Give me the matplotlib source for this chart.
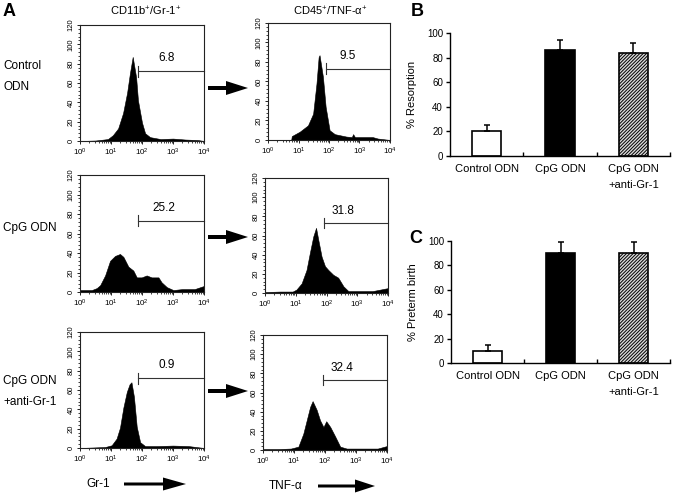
import numpy as np
import matplotlib
matplotlib.use('Agg')
import matplotlib.pyplot as plt
from matplotlib.patches import FancyArrow
from matplotlib.ticker import MultipleLocator, LogLocator, NullFormatter, FixedLocator

plt.rcParams['font.family'] = ['Liberation Sans', 'DejaVu Sans']
plt.rcParams['mathtext.fontset'] = 'custom'
plt.rcParams['mathtext.rm'] = 'Liberation Sans'
plt.rcParams['mathtext.it'] = 'Liberation Sans:italic'
plt.rcParams['mathtext.bf'] = 'Liberation Sans:bold'
plt.rcParams['hatch.linewidth'] = 0.7

# ---------------- data ----------------
# Histograms: x in log10 decades of fluorescence, y = counts
h1_log = [0.0, 0.5, 0.9, 1.06, 1.23, 1.39, 1.52, 1.61, 1.70, 1.81, 1.87, 2.0, 2.1, 2.26, 2.6, 3.0, 3.4, 3.8, 4.0]
h1_cnt = [0, 0.5, 2, 6, 13, 29, 50, 70, 87, 66, 42, 19, 8, 4, 2, 2.5, 1.5, 1, 0]

h2_log = [0.0, 0.76, 0.78, 1.04, 1.31, 1.48, 1.59, 1.66, 1.69, 1.80, 1.89, 2.02, 2.19, 2.57, 2.75, 2.79, 2.85, 3.43, 3.6, 4.0]
h2_cnt = [0, 0, 4, 8.5, 15, 27, 58, 85, 87, 65, 34, 10, 6, 3.5, 3, 6, 3, 3, 1.5, 0]

h3_log = [0.0, 0.2, 0.38, 0.54, 0.65, 0.81, 0.97, 1.13, 1.29, 1.40, 1.56, 1.72, 1.83, 1.99, 2.15, 2.31, 2.53, 2.63, 2.80, 3.01, 3.3, 3.7, 3.98, 4.0]
h3_cnt = [2, 2, 2, 4, 7, 17, 32, 37, 39, 36, 26, 22, 15, 15, 17, 15, 15, 10, 5, 2, 3, 3, 6, 0]

h4_log = [0.0, 0.5, 0.9, 1.02, 1.19, 1.35, 1.46, 1.57, 1.66, 1.73, 1.84, 1.95, 2.06, 2.22, 2.38, 2.55, 2.71, 3.0, 3.5, 3.98, 4.0]
h4_cnt = [1, 1.5, 1.5, 3.5, 10, 24, 42, 59, 68, 56, 38, 28, 24, 19, 16, 7, 2, 2, 2, 5, 0]

h5_log = [0.0, 0.81, 1.02, 1.18, 1.29, 1.40, 1.51, 1.60, 1.66, 1.74, 1.83, 1.94, 2.1, 2.5, 3.0, 3.5, 4.0]
h5_cnt = [0, 1, 2.8, 9.7, 21, 42, 58, 66, 68, 53, 22, 6, 2, 2, 2.5, 2, 0]

h6_log = [0.0, 0.5, 0.9, 1.14, 1.30, 1.41, 1.52, 1.60, 1.73, 1.84, 1.95, 2.04, 2.17, 2.33, 2.49, 2.7, 3.2, 3.7, 3.98, 4.0]
h6_cnt = [1, 1, 1.5, 3.5, 17, 31, 45, 51, 42, 31, 24, 30, 24, 14, 3.5, 1.5, 1.5, 1.5, 4, 0]

gate_pct = ['6.8', '9.5', '25.2', '31.8', '0.9', '32.4']
gate_start_log = [1.87, 1.90, 1.87, 1.92, 1.87, 1.94]
gate_level = [72, 73, 73, 73, 72, 73]

row_labels = [['Control', 'ODN'], ['CpG ODN'], ['CpG ODN', '+anti-Gr-1']]
col_titles = ['CD11b$^{+}$/Gr-1$^{+}$', 'CD45$^{+}$/TNF-α$^{+}$']
x_markers = ['Gr-1', 'TNF-α']

categories = ['Control ODN', 'CpG ODN', 'CpG ODN\n+anti-Gr-1']
resorption = [20, 86, 84]
resorption_err = [5, 8, 7.5]
preterm = [10, 90.5, 90.5]
preterm_err = [4.7, 8.3, 8.3]

# ---------------- figure ----------------
W, H = 675, 493
fig = plt.figure(figsize=(W / 100, H / 100), dpi=100)


def axes_px(x0, y0, x1, y1):
    return fig.add_axes([x0 / W, 1 - y1 / H, (x1 - x0) / W, (y1 - y0) / H])


def fig_text(x, y, s, **kw):
    fig.text(x / W, 1 - y / H, s, **kw)


hist_data = [(h1_log, h1_cnt), (h2_log, h2_cnt), (h3_log, h3_cnt),
             (h4_log, h4_cnt), (h5_log, h5_cnt), (h6_log, h6_cnt)]
hist_boxes = [(80, 25, 204, 141), (268, 23, 390, 140),
              (80, 175, 204, 292), (265, 178, 388, 293),
              (80, 332, 204, 448), (263, 335, 387, 450)]
label_log = [2.8, 2.62, 2.69, 2.55, 2.8, 2.55]

for i, ((lg, cnt), box) in enumerate(zip(hist_data, hist_boxes)):
    ax = axes_px(*box)
    xs = 10 ** np.array(lg)
    ax.fill_between(xs, cnt, 0, color='black', linewidth=0.4)
    ax.set_xscale('log')
    ax.set_xlim(1, 1e4)
    ax.set_ylim(0, 120)
    ax.yaxis.set_major_locator(MultipleLocator(20))
    ax.yaxis.set_minor_locator(MultipleLocator(4))
    ax.xaxis.set_major_locator(LogLocator(base=10, numticks=10))
    ax.xaxis.set_minor_locator(LogLocator(base=10, subs=np.arange(2, 10), numticks=50))
    ax.xaxis.set_minor_formatter(NullFormatter())
    ax.tick_params(which='major', direction='out', length=2.5, width=0.7,
                   labelsize=5.8, pad=1.5, color='#222222')
    ax.tick_params(which='minor', direction='out', length=1.6, width=0.6, color='#222222')
    ax.tick_params(axis='y', labelrotation=90, labelsize=5.5)
    for lbl in ax.get_yticklabels():
        lbl.set_va('center')
    for sp in ax.spines.values():
        sp.set_linewidth(0.8)
        sp.set_color('#222222')
    g0 = 10 ** gate_start_log[i]
    lv = gate_level[i]
    ax.plot([g0, 1e4], [lv, lv], color='#333333', lw=0.8, clip_on=False)
    ax.plot([g0, g0], [lv - 5.5, lv + 5.5], color='#333333', lw=0.8, clip_on=False)
    ax.text(10 ** label_log[i], 86, gate_pct[i], ha='center', va='center', fontsize=8.5)

# arrows between columns and under the axes
def arrow_px(x0, x1, y, head_len=22, head_w=14, shaft=4):
    a = FancyArrow(x0 / 100, (H - y) / 100, (x1 - x0) / 100, 0,
                   width=shaft / 100, head_width=head_w / 100, head_length=head_len / 100,
                   length_includes_head=True, color='black', linewidth=0,
                   transform=fig.dpi_scale_trans)
    fig.add_artist(a)

for yy in [88, 237, 391]:
    arrow_px(208, 248, yy)
arrow_px(124, 186, 484, head_len=23, head_w=13, shaft=3)
arrow_px(318, 375, 486, head_len=20, head_w=13, shaft=3)

# texts for panel A
fig_text(3, 12, 'A', fontsize=13, fontweight='bold', ha='left', va='center')
fig_text(146, 11, col_titles[0], fontsize=8, ha='center', va='center')
fig_text(330, 11, col_titles[1], fontsize=8, ha='center', va='center')
row_y = [[66, 87], [228], [381, 402]]
for labs, ys in zip(row_labels, row_y):
    for s, yy in zip(labs, ys):
        fig_text(3, yy, s, fontsize=8.5, ha='left', va='center')
fig_text(98, 484, x_markers[0], fontsize=8.5, ha='center', va='center')
fig_text(286, 486, x_markers[1], fontsize=8.5, ha='center', va='center')

# ---------------- bar panels ----------------
def bar_panel(box, vals, errs, ylabel, letter, letter_pos):
    ax = axes_px(*box)
    xs = np.arange(len(vals)) + 0.5
    faces = ['white', 'black', '#d9d9d9']
    hatches = [None, None, '//////////']
    for x, v, e, fc, hz in zip(xs, vals, errs, faces, hatches):
        ax.bar(x, v, width=0.4, facecolor=fc, edgecolor='black', linewidth=1.2,
               hatch=hz, zorder=2)
        ax.errorbar(x, v, yerr=[[0], [e]], fmt='none', ecolor='black',
                    elinewidth=1.1, capsize=2.5, capthick=1.1, zorder=3)
    ax.set_xlim(0, 3)
    ax.set_ylim(0, 100)
    ax.spines['top'].set_visible(False)
    ax.spines['right'].set_visible(False)
    ax.spines['left'].set_linewidth(1)
    ax.spines['bottom'].set_linewidth(1)
    ax.set_yticks(np.arange(0, 101, 20))
    ax.set_xticks(xs)
    ax.set_xticklabels(categories, fontsize=8, linespacing=1.75, va='top')
    ax.xaxis.set_minor_locator(FixedLocator([1, 2, 3]))
    ax.tick_params(axis='x', which='major', length=0, pad=6)
    ax.tick_params(axis='x', which='minor', direction='in', length=3, width=1)
    ax.tick_params(axis='y', direction='out', length=3, width=1, labelsize=7, pad=2)
    ax.set_ylabel(ylabel, fontsize=8)
    ax.yaxis.set_label_coords(-0.15, 0.5)
    fig_text(letter_pos[0], letter_pos[1], letter, fontsize=13, fontweight='bold',
             ha='left', va='center')

bar_panel((450, 33, 670, 156), resorption, resorption_err, '% Resorption', 'B', (411, 11))
bar_panel((451, 241, 670, 363), preterm, preterm_err, '% Preterm birth', 'C', (409, 238))

fig.savefig('out.png', dpi=100)
